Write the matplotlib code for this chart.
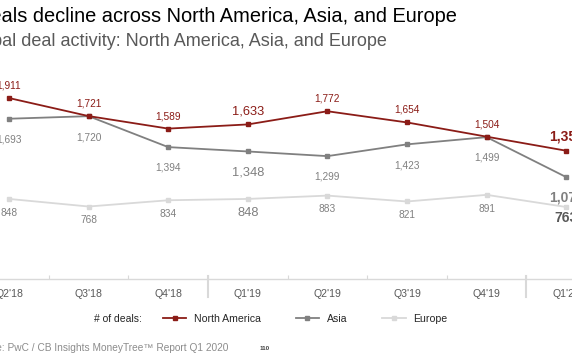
import matplotlib
matplotlib.use("Agg")
import matplotlib.pyplot as plt
from matplotlib.lines import Line2D

plt.rcParams['font.family'] = ['Liberation Sans', 'DejaVu Sans']

# data
quarters = ["Q2'18", "Q3'18", "Q4'18", "Q1'19", "Q2'19", "Q3'19", "Q4'19", "Q1'20"]
north_america = [1911, 1721, 1589, 1633, 1772, 1654, 1504, 1356]
asia = [1693, 1720, 1394, 1348, 1299, 1423, 1499, 1078]
europe = [848, 768, 834, 848, 883, 821, 891, 763]

RED = "#8b1c17"
GRAY = "#808080"
LIGHT = "#d9d9d9"
TEXT = "#595959"

fig = plt.figure(figsize=(5.72, 3.64), dpi=100)
ax = fig.add_axes([0, 1 - 279.4 / 364, 1, 189.8 / 364])
x = list(range(len(quarters)))

ax.plot(x, europe, color=LIGHT, lw=1.3, marker="s", ms=3.5, zorder=2)
ax.plot(x, asia, color=GRAY, lw=1.3, marker="s", ms=3.5, zorder=3)
ax.plot(x, north_america, color=RED, lw=1.3, marker="s", ms=3.5, zorder=4)

ax.set_xlim(-9 / 79.6, 563 / 79.6)
ax.set_ylim(0, 2000)


def fmt(v):
    return "{:,}".format(v)


last = len(quarters) - 1
for i in x:
    big = i == 3
    size = 9.3 if big else 7.3
    if i == last:
        ax.annotate(fmt(north_america[i]), (i, north_america[i]), xytext=(0, 10),
                    textcoords="offset points", ha="center", va="center",
                    fontsize=10, fontweight="bold", color=RED)
        ax.annotate(fmt(asia[i]), (i, asia[i]), xytext=(0, -15),
                    textcoords="offset points", ha="center", va="center",
                    fontsize=10, fontweight="bold", color=GRAY)
        ax.annotate(fmt(europe[i]), (i, europe[i]), xytext=(0, -8),
                    textcoords="offset points", ha="center", va="center",
                    fontsize=10, fontweight="bold", color=TEXT)
        continue
    ax.annotate(fmt(north_america[i]), (i, north_america[i]), xytext=(0, 9),
                textcoords="offset points", ha="center", va="center",
                fontsize=size, color=RED)
    ax.annotate(fmt(asia[i]), (i, asia[i]), xytext=(0, -15),
                textcoords="offset points", ha="center", va="center",
                fontsize=size, color=GRAY)
    ax.annotate(fmt(europe[i]), (i, europe[i]), xytext=(0, -10),
                textcoords="offset points", ha="center", va="center",
                fontsize=size, color=GRAY)

# axis styling
for s in ["top", "left", "right"]:
    ax.spines[s].set_visible(False)
ax.spines["bottom"].set_color(LIGHT)
ax.spines["bottom"].set_linewidth(1)
ax.set_yticks([])
ax.set_xticks(x)
ax.set_xticklabels(quarters, fontsize=7.6, color=TEXT)
ax.tick_params(axis="x", which="major", length=0, pad=7)
bounds = [i + 0.5 for i in x[:-1]]
ax.set_xticks(bounds, minor=True)
ax.tick_params(axis="x", which="minor", direction="in", length=3, width=0.8, color=LIGHT)
# year separators (between Q4 and Q1)
for i in x[:-1]:
    if quarters[i + 1].startswith("Q1"):
        ax.plot([i + 0.5, i + 0.5], [0.02, -0.095], transform=ax.get_xaxis_transform(),
                color=LIGHT, lw=1.5, clip_on=False)

# titles (cropped on the left as in the slide)
fig.text(457 / 572, 1 - 22 / 364, "Deals decline across North America, Asia, and Europe",
         ha="right", va="baseline", fontsize=14.4, color="#000000")
fig.text(387 / 572, 1 - 46 / 364, "Global deal activity: North America, Asia, and Europe",
         ha="right", va="baseline", fontsize=13, color=TEXT)

# legend
fig.text(142 / 572, 1 - 319 / 364, "# of deals:", ha="right", va="center",
         fontsize=7.5, color="#262626")
handles = [
    Line2D([], [], color=RED, lw=1.3, marker="s", ms=3.5),
    Line2D([], [], color=GRAY, lw=1.3, marker="s", ms=3.5),
    Line2D([], [], color=LIGHT, lw=1.3, marker="s", ms=3.5),
]
fig.legend(handles, ["North America", "Asia", "Europe"], loc="center left",
           bbox_to_anchor=(163 / 572, 1 - 319 / 364), ncol=3, frameon=False,
           fontsize=7.6, handlelength=2.2, handletextpad=0.75, columnspacing=3.3,
           labelcolor="#262626", borderaxespad=0, borderpad=0)

# source line
fig.text(228 / 572, 1 - 348 / 364, "Source: PwC / CB Insights MoneyTree\u2122 Report Q1 2020",
         ha="right", va="center", fontsize=7.3, color="#8c8c8c")
fig.text(260 / 572, 1 - 348 / 364, "110", ha="left", va="center", fontsize=4.5,
         fontweight="bold", color="#404040")

fig.savefig("out.png", dpi=100)
